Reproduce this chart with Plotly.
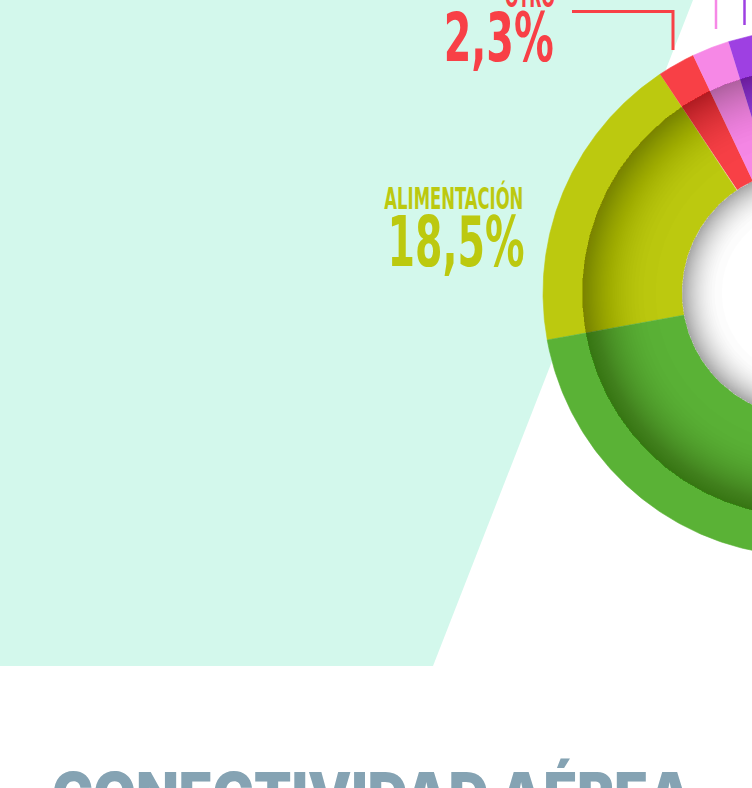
import json
import numpy as np
import plotly.graph_objects as go

# ---------------- data ----------------
categories = ["Alimentación", "Otro", "Ocio", "Compras", "Transporte", "Alojamiento"]
values = [18.5, 2.3, 2.3, 3.0, 28.9, 45.0]
colors = ["#BCC90F", "#F84046", "#F688E6", "#9E40E2", "#2F9FD8", "#5AB236"]
label_texts = ["ALIMENTACIÓN", "OTRO"]
label_values = ["18,5%", "2,3%"]
title_text = "CONECTIVIDAD AÉREA"

# ---------------- geometry (pixel space) ----------------
W, H = 752, 788
CX, CY = 806, 293
R_OUT, R_BAND, R_HOLE = 263, 224, 124
START = 190.3  # degrees, boundary between Alojamiento and Alimentación

def arc(r, a0, a1, n=200):
    t = np.radians(np.linspace(a0, a1, n))
    return CX + r * np.cos(t), CY - r * np.sin(t)

def ring(r_in, r_out, n=360):
    xo, yo = arc(r_out, 0, 360, n)
    xi, yi = arc(r_in, 360, 0, n)
    return np.concatenate([xo, [None], xi]), np.concatenate([yo, [None], yi])

fig = go.Figure()

# wedges
cum = 0.0
for cat, v, c in zip(categories, values, colors):
    a0 = START - cum * 3.6
    a1 = a0 - v * 3.6
    xo, yo = arc(R_OUT, a0, a1)
    xi, yi = arc(R_HOLE - 2, a1, a0)
    fig.add_trace(go.Scatter(x=np.concatenate([xo, xi]), y=np.concatenate([yo, yi]),
                             fill="toself", fillcolor=c, mode="lines",
                             line=dict(width=0.6, color=c), hoverinfo="skip",
                             showlegend=False, name=cat))
    cum += v

# inner band shading (darker at r = R_BAND fading inward)
N = 36
for k in range(N):
    u = k / N
    r_k = 150 + (R_BAND - 150) * np.sqrt(u)
    xs, ys = ring(r_k, R_BAND)
    fig.add_trace(go.Scatter(x=xs, y=ys, fill="toself", fillcolor="rgba(40,40,0,0.0078)",
                             mode="lines", line=dict(width=0), hoverinfo="skip",
                             showlegend=False))

# hole (white with grey rim)
xs, ys = arc(R_HOLE, 0, 360, 360)
fig.add_trace(go.Scatter(x=xs, y=ys, fill="toself", fillcolor="#FFFFFF", mode="lines",
                         line=dict(width=0), hoverinfo="skip", showlegend=False))
N2 = 30
for k in range(N2):
    u = k / N2
    r_k = 84 + (R_HOLE - 84) * np.sqrt(u)
    xs, ys = ring(r_k, R_HOLE)
    fig.add_trace(go.Scatter(x=xs, y=ys, fill="toself", fillcolor="rgba(0,0,0,0.011)",
                             mode="lines", line=dict(width=0), hoverinfo="skip",
                             showlegend=False))

# background mint polygon
fig.add_shape(type="path", path="M 0,0 L 693,0 L 433,666 L 0,666 Z",
              fillcolor="#D3F8EC", line=dict(width=0), layer="below", xref="x", yref="y")

# leader lines
fig.add_shape(type="path", path="M 572,11.5 L 673,11.5 L 673,50",
              line=dict(color="#F84046", width=3), xref="x", yref="y")
fig.add_shape(type="line", x0=716, y0=0, x1=716, y1=29,
              line=dict(color="#F688E6", width=2.5), xref="x", yref="y")
fig.add_shape(type="line", x0=744.5, y0=0, x1=744.5, y1=25,
              line=dict(color="#9E40E2", width=2.5), xref="x", yref="y")

FONT = "DejaVu Sans Condensed, DejaVu Sans, sans-serif"
TITLE_FONT = "Inter, DejaVu Sans, sans-serif"

# text: (text, x_px, y_center_px, size, color, family, weight, xanchor, target_width_px)
texts = [
    (label_texts[0], 525, 198, 30, colors[0], FONT, "bold", "right", 139),
    (label_values[0], 526, 242, 70, colors[0], FONT, "bold", "right", 137),
    (label_texts[1], 557, -4, 30, colors[1], FONT, "bold", "right", 50),
    (label_values[1], 556, 37, 68, colors[1], FONT, "bold", "right", 110),
    (title_text, 50, 794, 60, "#85A3B3", TITLE_FONT, 900, "left", 640),
]
targets = []
for t, x, y, s, c, fam, wt, xa, tw in texts:
    fig.add_annotation(text=t, x=x / W, y=1 - y / H, xref="paper", yref="paper",
                       showarrow=False, xanchor=xa, yanchor="middle",
                       font=dict(family=fam, size=s, color=c, weight=wt))
    targets.append([tw, xa])

fig.update_layout(
    width=W, height=H, margin=dict(l=0, r=0, t=0, b=0),
    paper_bgcolor="#FFFFFF", plot_bgcolor="#FFFFFF",
    xaxis=dict(range=[0, W], visible=False, fixedrange=True),
    yaxis=dict(range=[H, 0], visible=False, fixedrange=True),
    showlegend=False,
)

post = """
document.body.style.margin = '0px';
document.body.style.overflow = 'hidden';
var gd = document.getElementById('{plot_id}');
var targets = %s;
gd.querySelectorAll('g.annotation').forEach(function(g) {
  var i = parseInt(g.getAttribute('data-index'));
  var t = g.querySelector('text.annotation-text');
  if (!t || !targets[i]) return;
  var bb = t.getBBox();
  var s = targets[i][0] / bb.width;
  var ox = targets[i][1] === 'right' ? bb.x + bb.width : bb.x;
  t.setAttribute('transform', 'translate(' + ox + ',0) scale(' + s + ',1) translate(' + (-ox) + ',0)');
});
""" % json.dumps(targets)

fig.write_html("out.html", post_script=post, config={"displayModeBar": False})
